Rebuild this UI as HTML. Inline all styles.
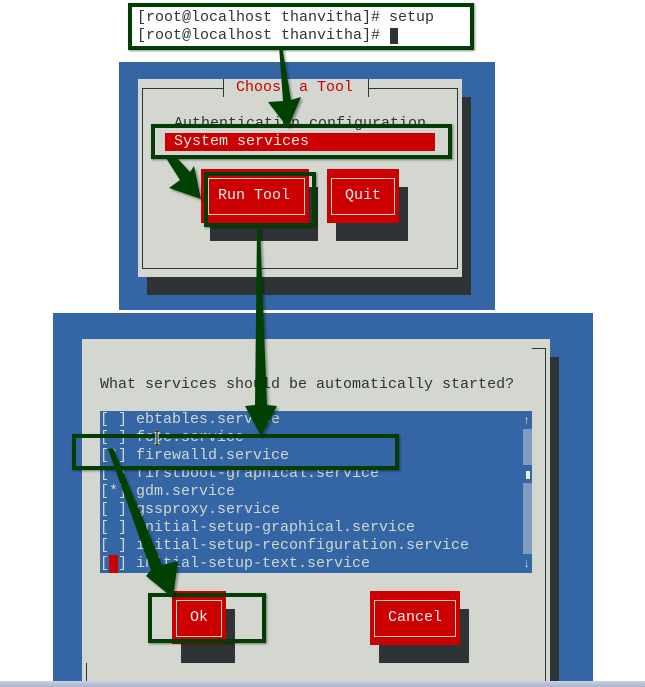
<!DOCTYPE html>
<html><head><meta charset="utf-8">
<style>
*{margin:0;padding:0;box-sizing:border-box}
body{width:645px;height:687px;position:relative;overflow:hidden;background:#fff;font-family:"Liberation Mono",monospace;font-size:15px}
.a{position:absolute}
.t{position:absolute;white-space:pre;line-height:18px;font-family:"Liberation Mono",monospace;font-size:15px}
.g{position:absolute;border:4px solid #033d03;box-shadow:1px 1px 2px rgba(0,0,0,.45)}
.red{position:absolute;background:#cc0000}
.sh{position:absolute;background:#2e3436}
.in{position:absolute;border:1px solid #d3d7cf}
</style></head><body>

<!-- terminal -->
<div class="g" style="left:128px;top:3px;width:346px;height:47px;background:#fff"></div>
<div class="t" style="left:137px;top:9px;color:#2e3436">[root@localhost thanvitha]# setup
[root@localhost thanvitha]# </div>
<div class="a" style="left:390px;top:28px;width:8px;height:16px;background:#2e3436"></div>

<!-- panel 1 -->
<div class="a" style="left:119px;top:62px;width:376px;height:248px;background:#3465a4"></div>
<div class="sh" style="left:147px;top:97px;width:324px;height:198px"></div>
<div class="a" style="left:138px;top:79px;width:324px;height:198px;background:#d3d7cf"></div>
<div class="a" style="left:142px;top:88px;width:316px;height:181px;border:1px solid #2e3436"></div>
<div class="a" style="left:224px;top:86px;width:144px;height:4px;background:#d3d7cf"></div>
<div class="a" style="left:223px;top:79px;width:1px;height:18px;background:#2e3436"></div>
<div class="a" style="left:368px;top:79px;width:1px;height:18px;background:#2e3436"></div>
<div class="t" style="left:236px;top:79px;color:#cc0000">Choose a Tool</div>
<div class="t" style="left:174px;top:115px;color:#2e3436">Authentication configuration</div>
<div class="red" style="left:165px;top:133px;width:270px;height:18px"></div>
<div class="t" style="left:174px;top:133px;color:#eeeeec">System services</div>
<div class="g" style="left:151px;top:124px;width:301px;height:35px"></div>

<div class="sh" style="left:210px;top:187px;width:108px;height:54px"></div>
<div class="red" style="left:201px;top:169px;width:108px;height:54px"></div>
<div class="in" style="left:208px;top:178px;width:97px;height:37px"></div>
<div class="t" style="left:218px;top:187px;color:#eeeeec">Run Tool</div>
<div class="g" style="left:204px;top:172px;width:112px;height:55px"></div>

<div class="sh" style="left:336px;top:187px;width:72px;height:54px"></div>
<div class="red" style="left:327px;top:169px;width:72px;height:54px"></div>
<div class="in" style="left:331px;top:178px;width:64px;height:37px"></div>
<div class="t" style="left:345px;top:187px;color:#eeeeec">Quit</div>

<!-- panel 2 -->
<div class="a" style="left:53px;top:313px;width:540px;height:368px;background:#3465a4"></div>
<div class="sh" style="left:550px;top:357px;width:9px;height:324px"></div>
<div class="a" style="left:82px;top:339px;width:468px;height:342px;background:#d3d7cf"></div>
<div class="a" style="left:532px;top:348px;width:14px;height:1px;background:#2e3436"></div>
<div class="a" style="left:545px;top:348px;width:1px;height:333px;background:#2e3436"></div>
<div class="a" style="left:86px;top:663px;width:1px;height:18px;background:#2e3436"></div>
<div class="t" style="left:100px;top:376px;color:#2e3436">What services should be automatically started?</div>

<div class="a" style="left:100px;top:411px;width:432px;height:162px;background:#3465a4"></div>
<div class="t" style="left:100px;top:411px;color:#d3d7cf">[ ] ebtables.service
[ ] fcoe.service
[*] firewalld.service
[ ] firstboot-graphical.service
[*] gdm.service
[ ] gssproxy.service
[ ] initial-setup-graphical.service
[ ] initial-setup-reconfiguration.service
[ ] initial-setup-text.service</div>
<div class="red" style="left:109px;top:555px;width:9px;height:18px"></div>
<div class="a" style="left:523px;top:429px;width:9px;height:36px;background:#809dc0"></div>
<div class="a" style="left:523px;top:483px;width:9px;height:71px;background:#809dc0"></div>
<div class="a" style="left:526px;top:471px;width:4px;height:8px;background:#eeeeec"></div>
<div class="t" style="left:523px;top:412px;color:#d3d7cf;font-size:12px">↑</div>
<div class="t" style="left:523px;top:555px;color:#d3d7cf;font-size:12px">↓</div>
<div class="g" style="left:72px;top:434px;width:327px;height:36px"></div>

<svg class="a" style="left:153px;top:430px" width="8" height="16" viewBox="0 0 8 16">
<path d="M1 1h6M4 1v14M1 15h6" stroke="#fff" stroke-width="3" fill="none"/>
<path d="M1 1h6M4 1v14M1 15h6" stroke="#000" stroke-width="1.2" fill="none"/>
</svg>

<!-- Ok -->
<div class="sh" style="left:181px;top:609px;width:54px;height:54px"></div>
<div class="red" style="left:172px;top:591px;width:54px;height:53px"></div>
<div class="in" style="left:176px;top:600px;width:46px;height:37px"></div>
<div class="t" style="left:190px;top:609px;color:#eeeeec">Ok</div>
<div class="g" style="left:148px;top:593px;width:118px;height:50px"></div>

<!-- Cancel -->
<div class="sh" style="left:379px;top:609px;width:90px;height:54px"></div>
<div class="red" style="left:370px;top:591px;width:90px;height:54px"></div>
<div class="in" style="left:374px;top:600px;width:82px;height:37px"></div>
<div class="t" style="left:388px;top:609px;color:#eeeeec">Cancel</div>

<div class="a" style="left:0;top:681px;width:645px;height:6px;background:linear-gradient(#c9d1e1,#a9b5cc)"></div>

<!-- arrows -->
<svg class="a" style="left:0;top:0" width="645" height="687" viewBox="0 0 645 687">
<defs><filter id="s" x="-20%" y="-20%" width="140%" height="140%"><feDropShadow dx="2" dy="2" stdDeviation="1" flood-color="#000" flood-opacity="0.35"/></filter></defs>
<g fill="#033f03" filter="url(#s)">
<polygon points="279,46 282,46 291,100 301,97 288,128 268,102 283,101"/>
<polygon points="166,158 177,158 190,172 194,166 201,199 169,188 180,180"/>
<polygon points="257,228 260,228 267,405 277,406 261,436 245,406 255,405"/>
<polygon points="108,449 113,448 162,565 178,561 173,598 146,576 151,570"/>
</g>
</svg>
</body></html>
